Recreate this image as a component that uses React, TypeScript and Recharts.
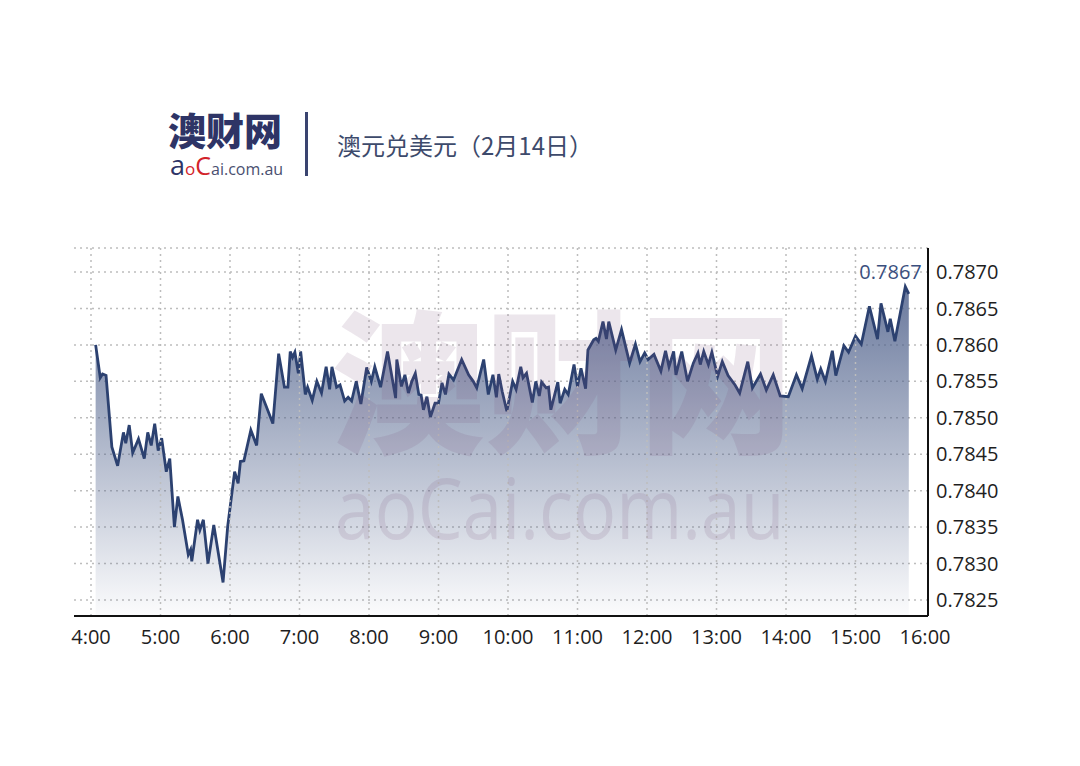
import { Area, AreaChart, CartesianGrid, LabelList, ReferenceLine, XAxis, YAxis } from 'recharts'

// minutes after 4:00
const minutes = [
  4, 8, 10, 13, 18, 23, 28, 30, 33, 36, 41, 46, 49, 52, 55, 58, 61, 65, 68, 72,
  75, 79, 84, 86, 87, 92, 94, 97, 101, 106, 114, 118, 124, 127, 129, 132, 138, 143, 147, 151,
  157, 162, 167, 170, 172, 174, 176,
  179, 181, 185, 187, 191, 195, 199, 203, 206, 208, 212, 215, 219, 222, 225, 229, 233, 238, 242, 245,
  250, 256, 263, 264, 268, 271, 274, 277, 280, 283, 285, 287, 290, 293, 297, 300, 303, 306, 309, 313,
  320, 326, 330, 333, 339, 343, 347, 350, 352, 355, 359,
  364, 367, 371, 373, 376, 381, 384, 387, 389, 393, 395, 397, 403, 405, 409, 412, 417, 420, 423, 427,
  429, 434, 436, 438, 442, 445, 447, 453, 458, 465, 470, 474, 478, 481, 486, 492, 496, 499, 503, 505,
  510, 515, 520, 524, 526, 529, 533, 536, 541,
  545, 550, 556, 560, 567, 571, 578, 583, 589, 595, 602, 609, 614, 622, 627, 630, 634, 640, 643, 650,
  654, 660, 665, 672, 679, 682, 688, 690, 694, 703, 706,
]

const rates = [
  0.786, 0.78555, 0.7856, 0.78558, 0.7846, 0.78434, 0.7848, 0.78465, 0.7849, 0.78452,
  0.78471, 0.78444, 0.7848, 0.78462, 0.78492, 0.78455, 0.78472, 0.78426, 0.78444, 0.7835,
  0.78392, 0.7836, 0.78312, 0.78319, 0.78303, 0.7836, 0.78346, 0.7836, 0.783, 0.78353,
  0.78274, 0.78351, 0.78426, 0.7841, 0.7844, 0.78441, 0.78483, 0.78462, 0.78533, 0.78517,
  0.78492, 0.78588, 0.78542, 0.78542, 0.78591, 0.78583, 0.7859,
  0.78561, 0.78591, 0.78532, 0.78542, 0.78524, 0.7855, 0.78534, 0.7857, 0.78539, 0.7857,
  0.78542, 0.78545, 0.78523, 0.78528, 0.78523, 0.7855, 0.78519, 0.78569, 0.7855, 0.7857,
  0.78542, 0.78591, 0.78527, 0.7858, 0.78543, 0.78559, 0.78534, 0.7855, 0.78561, 0.78532,
  0.78531, 0.78511, 0.78529, 0.78501, 0.7852, 0.7852, 0.78548, 0.78532, 0.7856, 0.78552,
  0.7858, 0.78559, 0.7855, 0.78541, 0.7858, 0.78532, 0.78559, 0.78528, 0.7856, 0.78536,
  0.78509,
  0.7855, 0.78539, 0.7857, 0.78555, 0.78561, 0.78521, 0.7855, 0.7853, 0.78549, 0.78541,
  0.78542, 0.78511, 0.78549, 0.7852, 0.78539, 0.78532, 0.78573, 0.78543, 0.78568, 0.7854,
  0.78593, 0.78607, 0.78609, 0.78605, 0.78632, 0.78608, 0.78632, 0.78593, 0.78621, 0.78575,
  0.78601, 0.78577, 0.78589, 0.7858, 0.78587, 0.78564, 0.78592, 0.7857, 0.78591, 0.78559,
  0.78591, 0.7855, 0.78575, 0.78589, 0.78573, 0.78591, 0.78573, 0.7859, 0.78557,
  0.78577, 0.78558, 0.78545, 0.78534, 0.78577, 0.78541, 0.7856, 0.78538, 0.78559, 0.7853,
  0.78529, 0.78559, 0.7854, 0.78585, 0.78553, 0.78567, 0.7855, 0.78592, 0.78558, 0.78599,
  0.7859, 0.78612, 0.78601, 0.78653, 0.78608, 0.78657, 0.78618, 0.78636, 0.78605, 0.7868,
  0.7867,
]

const hourTicks = [0, 60, 120, 180, 240, 300, 360, 420, 480, 540, 600, 660, 720]
const rateTicks = [0.7825, 0.783, 0.7835, 0.784, 0.7845, 0.785, 0.7855, 0.786, 0.7865, 0.787]
const lastLabel = '0.7867'

const data = minutes.map((m, i) => ({ m, rate: rates[i] }))

const tickFont = { fontFamily: 'Open Sans', fontSize: 20, fill: '#1e1e1e' }
const markColor = 'rgba(120,80,120,0.14)'
const gridStyle = { stroke: '#bdbdbd', strokeDasharray: '2 4', strokeWidth: 1.5 }

const renderLast = (props: any) => {
  if (props.index !== data.length - 1) return null
  const x = props.viewBox?.x ?? props.x
  const y = props.viewBox?.y ?? props.y
  return (
    <text x={x + 13} y={y - 15} textAnchor="end" fontFamily="Open Sans" fontSize={20} fill="#3b4f7e">
      {lastLabel}
    </text>
  )
}

export default function App() {
  return (
    <div style={{ position: 'absolute', left: 0, top: 0, width: 1080, height: 766, background: '#fff', overflow: 'hidden' }}>
      <AreaChart width={1080} height={766} data={data} margin={{ top: 248, right: 72, bottom: 120, left: 74 }}>
        <defs>
          <linearGradient id="fillGrad" x1="0" y1="0" x2="0" y2="1">
            <stop offset="0%" stopColor="#50628c" stopOpacity={0.85} />
            <stop offset="100%" stopColor="#50628c" stopOpacity={0.02} />
          </linearGradient>
        </defs>
        <CartesianGrid vertical={false} {...gridStyle} />
        {hourTicks.slice(0, -1).map((h) => (
          <ReferenceLine key={h} x={h} {...gridStyle} />
        ))}
        <XAxis
          dataKey="m"
          type="number"
          domain={[0, 720]}
          ticks={hourTicks}
          tickFormatter={(v: number) => `${4 + v / 60}:00`}
          padding={{ left: 17, right: 3 }}
          height={30}
          tickLine={false}
          tickMargin={8}
          axisLine={{ stroke: '#111', strokeWidth: 2 }}
          tick={tickFont}
        />
        <YAxis
          orientation="right"
          type="number"
          domain={[0.78228, 0.78733]}
          ticks={rateTicks}
          tickFormatter={(v: number) => v.toFixed(4)}
          width={80}
          tickLine={false}
          axisLine={{ stroke: '#111', strokeWidth: 2 }}
          tick={{ ...tickFont, textAnchor: 'start' }}
        />
        <Area
          type="linear"
          dataKey="rate"
          stroke="#2c4170"
          strokeWidth={2.8}
          fill="url(#fillGrad)"
          fillOpacity={1}
          dot={false}
          activeDot={false}
          isAnimationActive={false}
        >
          <LabelList dataKey="rate" content={renderLast} />
        </Area>
      </AreaChart>

      {/* watermark */}
      <div style={{ position: 'absolute', left: 331, top: 298, fontFamily: 'Noto Sans CJK SC', fontWeight: 900, fontSize: 154, lineHeight: '154px', color: markColor, pointerEvents: 'none', whiteSpace: 'nowrap' }}>
        澳财网
      </div>
      <div style={{ position: 'absolute', left: 335, top: 464, fontFamily: 'Open Sans', fontSize: 84, lineHeight: '86px', color: markColor, pointerEvents: 'none', whiteSpace: 'nowrap', transform: 'scaleX(0.85)', transformOrigin: 'left center' }}>
        aoCai.com.au
      </div>

      {/* header */}
      <div style={{ position: 'absolute', left: 168, top: 108, fontFamily: 'Noto Sans CJK SC', fontWeight: 900, fontSize: 38, lineHeight: '42px', color: '#2e3466', whiteSpace: 'nowrap' }}>
        澳财网
      </div>
      <div style={{ position: 'absolute', left: 170, top: 153, fontFamily: 'Open Sans', fontSize: 16, lineHeight: '24px', whiteSpace: 'nowrap', color: '#4a5070' }}>
        <span style={{ fontSize: 27, color: '#2e3466' }}>a</span>
        <span style={{ fontSize: 17, color: '#d2232a' }}>o</span>
        <span style={{ fontSize: 25, color: '#d2232a' }}>C</span>
        ai.com.au
      </div>
      <div style={{ position: 'absolute', left: 305, top: 112, width: 3, height: 64, background: '#3a4470' }} />
      <div style={{ position: 'absolute', left: 337, top: 128, fontFamily: 'Noto Sans CJK SC', fontSize: 24, lineHeight: '34px', color: '#3d4a6b', whiteSpace: 'nowrap' }}>
        澳元兑美元（2月14日）
      </div>
    </div>
  )
}
